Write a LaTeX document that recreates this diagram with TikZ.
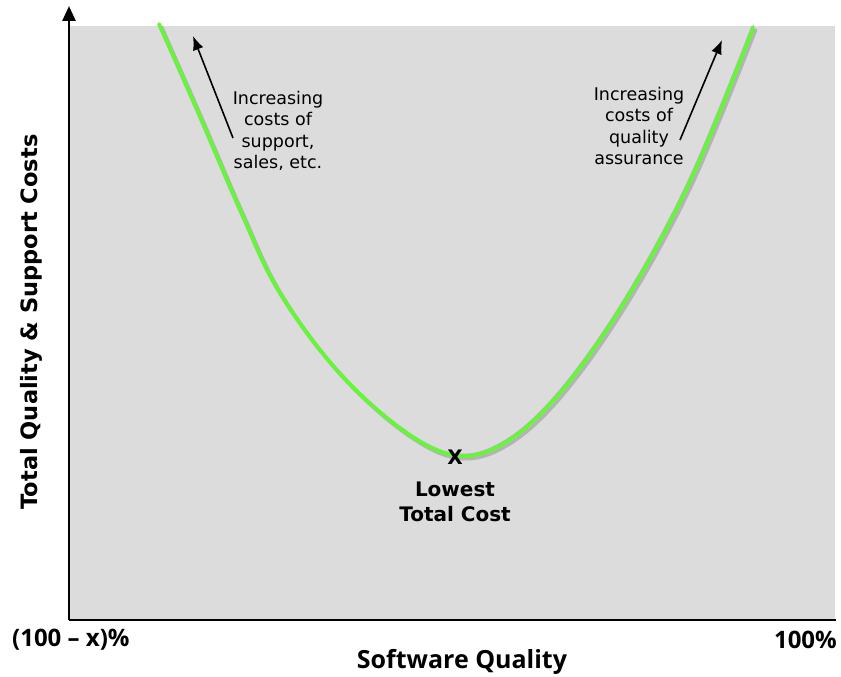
\documentclass[tikz,border=0pt]{standalone}
\usepackage{fontspec}
\setmainfont{DejaVu Sans}
\newfontfamily\labfont{Open Sans}
\usetikzlibrary{arrows.meta}
\definecolor{bg}{HTML}{DCDCDC}
\definecolor{curvegreen}{HTML}{66F53A}
\definecolor{shadowgray}{HTML}{B4B4B4}
\tikzset{
  note/.style={align=center, font=\fontsize{17.5}{21.5}\selectfont, inner sep=0pt},
  ticklabel/.style={font=\labfont\fontsize{24}{26}\selectfont\bfseries, inner sep=0pt},
  axisline/.style={line width=2.6pt},
  pointer/.style={line width=1.6pt, -{Latex[length=14pt,width=11pt]}},
  curvepath/.style={line width=3.8pt, line cap=round},
}
\begin{document}
\begin{tikzpicture}[x=1pt,y=-1pt]
\useasboundingbox (0,0) rectangle (841,677);
\fill[bg] (69,26) rectangle (835,620);
% curve shadow and curve
\draw[shadowgray, curvepath, xshift=2.5pt, yshift=-3pt]
  plot[smooth, tension=0.6] coordinates {(159,24) (200,117) (240,210) (278,290) (335,368) (400,428) (455,455) (505,442) (560,392) (625,300) (690,180) (753,27)};
\draw[curvegreen, curvepath]
  plot[smooth, tension=0.6] coordinates {(159,24) (200,117) (240,210) (278,290) (335,368) (400,428) (455,455) (505,442) (560,392) (625,300) (690,180) (753,27)};
% axes
\coordinate (O) at (69,620);
\coordinate (ytop) at (69,6);
\coordinate (xend) at (836,620);
\draw[axisline, -{Triangle[length=15pt,width=13pt]}] (O) -- (ytop);
\draw[axisline] (O) -- (xend);
% arrows
\coordinate (la0) at (233,138);
\coordinate (la1) at (193,36);
\coordinate (ra0) at (680,140);
\coordinate (ra1) at (722,40);
\draw[pointer] (la0) -- (la1);
\draw[pointer] (ra0) -- (ra1);
% notes
\node[note] (leftnote) at (278,131) {Increasing\\costs of\\support,\\sales, etc.};
\node[note] (rightnote) at (639,126) {Increasing\\costs of\\quality\\assurance};
% minimum
\node[font=\fontsize{20}{20}\selectfont\bfseries, inner sep=0pt] (X) at (455,457) {X};
\node[align=center, inner sep=0pt, font=\fontsize{20}{24.5}\selectfont\bfseries] (lowest) at (455,502) {Lowest\\Total Cost};
% axis labels
\node[ticklabel, anchor=west] (lo) at (12,640) {(100 – x)\%};
\node[ticklabel, anchor=east] (hi) at (837,640) {100\%};
\node[ticklabel, font=\labfont\fontsize{25}{28}\selectfont\bfseries] (xlab) at (462,662) {Software Quality};
\node[inner sep=0pt, rotate=90, font=\fontsize{22.5}{26}\selectfont\bfseries] (ylab) at (31,322) {Total Quality \& Support Costs};
\end{tikzpicture}
\end{document}
